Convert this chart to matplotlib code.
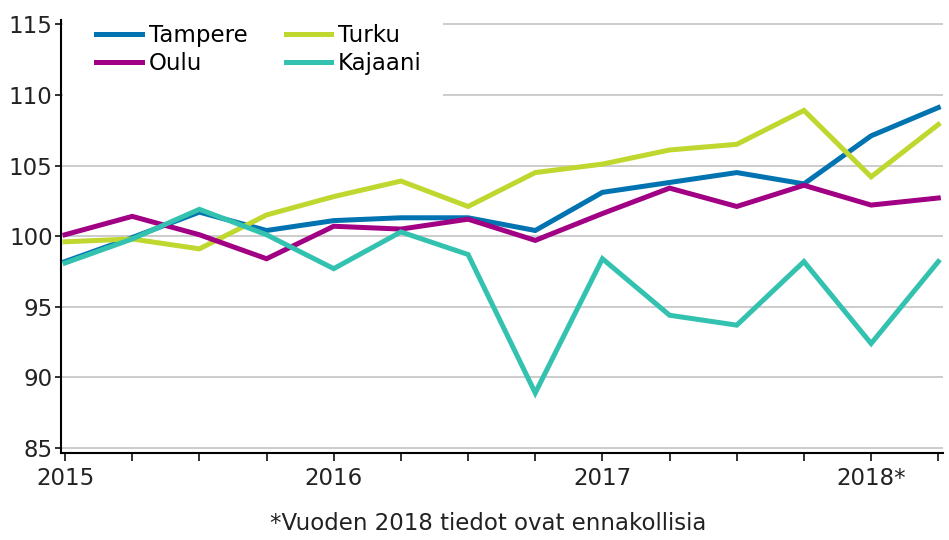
import matplotlib
matplotlib.use("Agg")
import matplotlib.pyplot as plt
from matplotlib.patches import Rectangle

# neljännesvuodet 2015Q1 - 2018Q2
quarters = list(range(14))
year_ticks = [0, 4, 8, 12]
year_labels = ["2015", "2016", "2017", "2018*"]

tampere = [98.2, 99.9, 101.7, 100.4, 101.1, 101.3, 101.3, 100.4, 103.1, 103.8, 104.5, 103.7, 107.1, 109.1]
turku = [99.6, 99.8, 99.1, 101.5, 102.8, 103.9, 102.1, 104.5, 105.1, 106.1, 106.5, 108.9, 104.2, 107.9]
oulu = [100.1, 101.4, 100.1, 98.4, 100.7, 100.5, 101.2, 99.7, 101.6, 103.4, 102.1, 103.6, 102.2, 102.7]
kajaani = [98.1, 99.8, 101.9, 100.1, 97.7, 100.3, 98.7, 88.9, 98.4, 94.4, 93.7, 98.2, 92.4, 98.2]


def main():
    plt.rcParams["font.family"] = ["DejaVu Sans"]
    fs = 16.5
    fig = plt.figure(figsize=(9.49, 5.4), dpi=100)
    ax = fig.add_axes([61 / 949, 1 - 453 / 540, 882 / 949, 433 / 540])

    lw = 3.6
    l1, = ax.plot(quarters, tampere, color="#0073B0", lw=lw, label="Tampere", solid_joinstyle="miter", zorder=3)
    l2, = ax.plot(quarters, turku, color="#C0D72F", lw=lw, label="Turku", solid_joinstyle="miter", zorder=3)
    l3, = ax.plot(quarters, oulu, color="#A10084", lw=lw, label="Oulu", solid_joinstyle="miter", zorder=3)
    l4, = ax.plot(quarters, kajaani, color="#33C2B0", lw=lw, label="Kajaani", solid_joinstyle="miter", zorder=3)

    ax.set_xlim(-0.06, 13.07)
    ax.set_ylim(84.65, 115.3)
    ax.set_yticks([85, 90, 95, 100, 105, 110, 115])
    ax.set_xticks(quarters)
    ax.set_xticklabels([year_labels[year_ticks.index(q)] if q in year_ticks else "" for q in quarters])

    ax.yaxis.grid(True, color="#c8c8c8", lw=1.3)
    ax.set_axisbelow(True)
    for s in ["top", "right"]:
        ax.spines[s].set_visible(False)
    ax.spines["left"].set_linewidth(1.5)
    ax.spines["bottom"].set_linewidth(1.5)
    ax.tick_params(axis="y", length=4, width=1.3, labelsize=fs, pad=2, colors="#222222")
    ax.tick_params(axis="x", length=6, width=1.3, labelsize=fs, pad=4, colors="#222222")

    # valkoinen tausta selitteen alle
    ax.add_patch(Rectangle((0.002, 0.8), (443 - 61) / 882 - 0.002, 0.25, transform=ax.transAxes,
                           facecolor="white", edgecolor="none", zorder=1, clip_on=False))

    ax.legend(handles=[l1, l3, l2, l4], ncol=2, loc="upper left",
              bbox_to_anchor=(96 / 949, 1 - 24 / 540), bbox_transform=fig.transFigure,
              frameon=False, fontsize=fs, handlelength=2.0, handletextpad=0.3,
              columnspacing=1.66, labelspacing=0.23, borderpad=0, borderaxespad=0)

    fig.text(488 / 949, 1 - 523 / 540, "*Vuoden 2018 tiedot ovat ennakollisia",
             ha="center", va="center", fontsize=fs, color="#222222")

    fig.savefig("out.png", dpi=100)


if __name__ == "__main__":
    main()
